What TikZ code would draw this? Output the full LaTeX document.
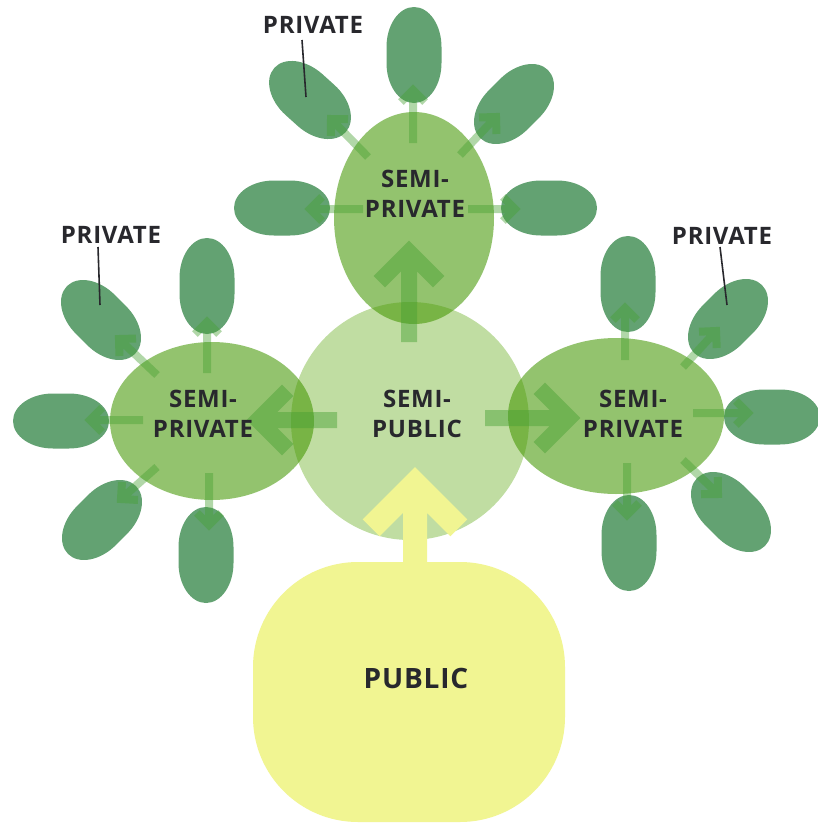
\documentclass[tikz,border=0pt]{standalone}
\usepackage{fontspec}
\newfontfamily\labf[LetterSpace=3]{Open Sans}
\usetikzlibrary{shapes.geometric,shapes.misc,calc}
\definecolor{petalc}{RGB}{99,162,114}
\definecolor{spc}{RGB}{66,150,0}
\definecolor{spubc}{RGB}{192,221,162}
\definecolor{pubc}{RGB}{241,245,146}
\definecolor{arrc}{RGB}{70,160,50}
\definecolor{txtc}{RGB}{40,40,45}
\newcommand\chevarrow[4]{%
  \draw[#1] (#2) -- (#3) ($(#3)!#4!-45:(#2)$) -- (#3) -- ($(#3)!#4!45:(#2)$);}
\newcommand\petal[3]{%
  \fill[petalc, shift={(#1,#2)}, rotate=#3] (-8,-27.5) -- (8,-27.5)
    arc[start angle=-90, end angle=90, x radius=40, y radius=27.5] -- (-8,27.5)
    arc[start angle=90, end angle=270, x radius=40, y radius=27.5] -- cycle;}
\begin{document}
\begin{tikzpicture}[x=1pt,y=-1pt,
  semipriv/.style={ellipse, fill=spc, fill opacity=0.57, draw=none, inner sep=0pt},
  lab/.style={text=txtc, align=center, inner sep=0pt, font={\labf\bfseries\fontsize{24}{30}\selectfont}},
  biglab/.style={text=txtc, align=center, inner sep=0pt, font={\labf\bfseries\fontsize{28}{34}\selectfont}},
  sarr/.style={draw=arrc, draw opacity=0.42, line width=8pt, line join=miter},
  barr/.style={draw=arrc, draw opacity=0.45, line width=16pt, line join=miter},
  yarr/.style={draw=pubc, line width=24pt, line join=miter},
  leader/.style={draw=txtc, line width=1.6pt}]
\useasboundingbox (0,0) rectangle (818,827);
\fill[white] (0,0) rectangle (818,827);

% semi-public circle
\node[circle, fill=spubc, minimum size=238pt, inner sep=0pt] (spub) at (410,421) {};
% semi-private ellipses
\node[semipriv, minimum width=160pt, minimum height=212pt] (spT) at (414,218) {};
\node[semipriv, minimum width=204pt, minimum height=158pt] (spL) at (212,421) {};
\node[semipriv, minimum width=216pt, minimum height=156pt] (spR) at (616,416) {};
% public
\node[fill=pubc, rounded corners=105pt, minimum width=312pt, minimum height=260pt, inner sep=0pt] (pub) at (409,692) {};

% petals top cluster
\petal{282}{208}{0}
\petal{310}{100}{-42}
\petal{414}{55}{90}
\petal{514}{104}{45}
\petal{549}{208}{0}
% petals left cluster
\petal{207}{286}{90}
\petal{101}{320}{-45}
\petal{61}{421}{0}
\petal{102}{520}{45}
\petal{206}{555}{90}
% petals right cluster
\petal{628}{284}{90}
\petal{728}{319}{45}
\petal{772}{417}{0}
\petal{731}{512}{-45}
\petal{629}{543}{90}

% arrow coordinates
\coordinate (aTuS) at (413,143); \coordinate (aTuE) at (413,90);
\coordinate (aTlS) at (363,209); \coordinate (aTlE) at (310,209);
\coordinate (aTrS) at (468,209); \coordinate (aTrE) at (515,209);
\coordinate (aTulS) at (368,157); \coordinate (aTulE) at (331,119);
\coordinate (aTurS) at (460,155); \coordinate (aTurE) at (496,117);

\coordinate (aLuS) at (207,373); \coordinate (aLuE) at (207,322);
\coordinate (aLulS) at (157,375); \coordinate (aLulE) at (119,339);
\coordinate (aLlS) at (143,420); \coordinate (aLlE) at (90,420);
\coordinate (aLllS) at (157,467); \coordinate (aLllE) at (121,499);
\coordinate (aLdS) at (209,473); \coordinate (aLdE) at (209,525);

\coordinate (aRuS) at (625,360); \coordinate (aRuE) at (625,308);
\coordinate (aRurS) at (683,367); \coordinate (aRurE) at (716,331);
\coordinate (aRrS) at (693,413); \coordinate (aRrE) at (748,413);
\coordinate (aRlrS) at (683,460); \coordinate (aRlrE) at (718,494);
\coordinate (aRdS) at (627,463); \coordinate (aRdE) at (627,515);

\coordinate (bTS) at (409,342); \coordinate (bTE) at (409,252);
\coordinate (bLS) at (337,420); \coordinate (bLE) at (258,420);
\coordinate (bRS) at (485,418); \coordinate (bRE) at (569,418);

\coordinate (yS) at (415,566); \coordinate (yE) at (415,484);

% small arrows
\chevarrow{sarr}{aTuS}{aTuE}{17pt}
\chevarrow{sarr}{aTlS}{aTlE}{17pt}
\chevarrow{sarr}{aTrS}{aTrE}{17pt}
\chevarrow{sarr}{aTulS}{aTulE}{17pt}
\chevarrow{sarr}{aTurS}{aTurE}{17pt}
\chevarrow{sarr}{aLuS}{aLuE}{17pt}
\chevarrow{sarr}{aLulS}{aLulE}{17pt}
\chevarrow{sarr}{aLlS}{aLlE}{17pt}
\chevarrow{sarr}{aLllS}{aLllE}{17pt}
\chevarrow{sarr}{aLdS}{aLdE}{17pt}
\chevarrow{sarr}{aRuS}{aRuE}{17pt}
\chevarrow{sarr}{aRurS}{aRurE}{17pt}
\chevarrow{sarr}{aRrS}{aRrE}{17pt}
\chevarrow{sarr}{aRlrS}{aRlrE}{17pt}
\chevarrow{sarr}{aRdS}{aRdE}{17pt}
% big arrows
\chevarrow{barr}{bTS}{bTE}{42pt}
\chevarrow{barr}{bLS}{bLE}{42pt}
\chevarrow{barr}{bRS}{bRE}{42pt}
\chevarrow{yarr}{yS}{yE}{62pt}

% texts
\node[lab] (tT) at (415,194) {SEMI-\\PRIVATE};
\node[lab] (tL) at (203,414) {SEMI-\\PRIVATE};
\node[lab] (tC) at (417,414) {SEMI-\\PUBLIC};
\node[lab] (tR) at (633,414) {SEMI-\\PRIVATE};
\node[biglab] (tP) at (416,678) {PUBLIC};
\node[lab] (pT) at (313,25) {PRIVATE};
\node[lab] (pL) at (111,235) {PRIVATE};
\node[lab] (pR) at (722,236) {PRIVATE};

% leaders
\coordinate (ldT1) at (302,40); \coordinate (ldT2) at (306,97);
\coordinate (ldL1) at (98,247); \coordinate (ldL2) at (100,305);
\coordinate (ldR1) at (720,247); \coordinate (ldR2) at (727,305);
\draw[leader] (ldT1) -- (ldT2);
\draw[leader] (ldL1) -- (ldL2);
\draw[leader] (ldR1) -- (ldR2);
\end{tikzpicture}
\end{document}
